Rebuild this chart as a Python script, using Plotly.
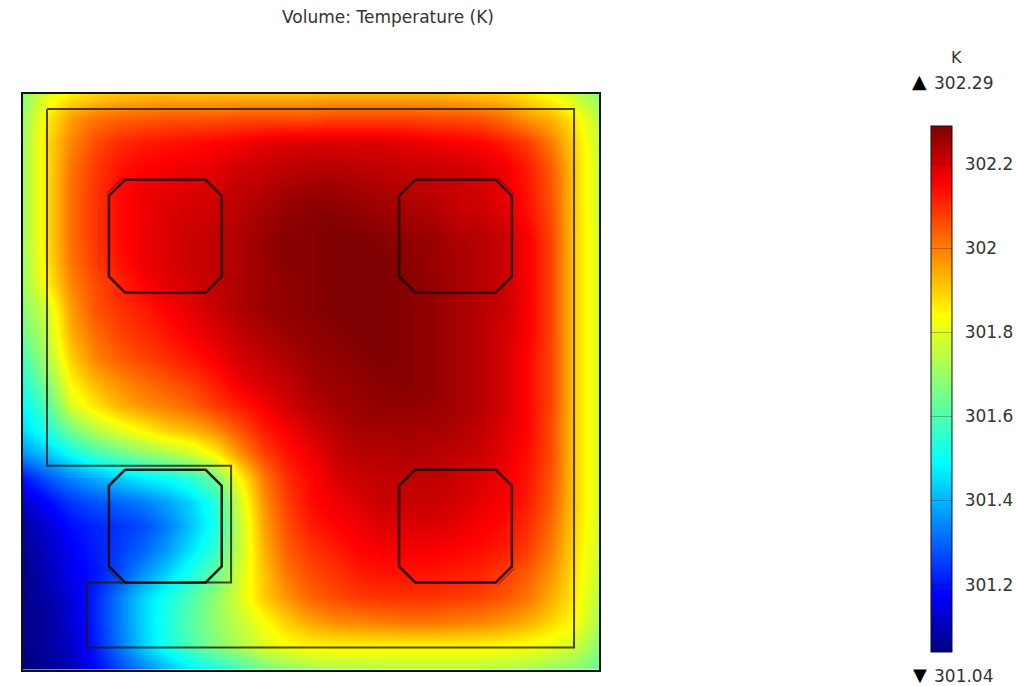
import plotly.graph_objects as go

title_text = "Volume: Temperature (K)"
unit_label = "K"
max_label = "302.29"
min_label = "301.04"
tick_values = [301.2, 301.4, 301.6, 301.8, 302.0, 302.2]
tick_labels = ["\u00a0\u2006301.2", "\u00a0\u2006301.4", "\u00a0\u2006301.6", "\u00a0\u2006301.8", "\u00a0\u2006302", "\u00a0\u2006302.2"]
z_min = 301.04
z_max = 302.29

grid_x = list(range(25))
grid_y = list(range(25))
temperature = [
 [301.68,301.80,301.86,301.89,301.91,301.92,301.92,301.92,301.92,301.92,301.92,301.92,301.92,301.93,301.93,301.93,301.93,301.93,301.92,301.91,301.90,301.87,301.83,301.76,301.68],
 [301.70,301.86,301.96,302.01,302.03,302.04,302.05,302.05,302.05,302.06,302.06,302.06,302.06,302.07,302.07,302.07,302.07,302.06,302.06,302.05,302.02,301.97,301.93,301.86,301.74],
 [301.71,301.88,301.99,302.06,302.10,302.12,302.13,302.14,302.15,302.16,302.18,302.19,302.19,302.19,302.19,302.19,302.18,302.17,302.16,302.15,302.12,302.08,302.00,301.89,301.76],
 [301.71,301.88,302.01,302.08,302.13,302.15,302.16,302.17,302.18,302.20,302.21,302.22,302.23,302.23,302.22,302.22,302.21,302.21,302.20,302.19,302.17,302.12,302.04,301.90,301.77],
 [301.71,301.88,302.02,302.09,302.14,302.17,302.18,302.19,302.20,302.22,302.23,302.25,302.26,302.26,302.25,302.24,302.23,302.22,302.21,302.20,302.18,302.13,302.05,301.90,301.77],
 [301.71,301.88,302.02,302.09,302.14,302.17,302.19,302.20,302.21,302.23,302.25,302.27,302.28,302.28,302.27,302.26,302.25,302.24,302.22,302.21,302.19,302.14,302.06,301.90,301.77],
 [301.71,301.88,302.02,302.09,302.14,302.17,302.19,302.21,302.22,302.24,302.26,302.28,302.28,302.29,302.29,302.28,302.27,302.26,302.24,302.23,302.21,302.16,302.07,301.90,301.78],
 [301.71,301.87,302.01,302.08,302.13,302.17,302.19,302.21,302.22,302.24,302.26,302.28,302.28,302.29,302.29,302.29,302.28,302.26,302.25,302.23,302.21,302.16,302.07,301.90,301.78],
 [301.70,301.85,301.99,302.06,302.11,302.15,302.18,302.20,302.22,302.24,302.26,302.27,302.28,302.29,302.29,302.29,302.28,302.27,302.25,302.23,302.21,302.16,302.07,301.90,301.78],
 [301.68,301.78,301.96,302.05,302.09,302.12,302.15,302.18,302.21,302.24,302.26,302.27,302.28,302.29,302.29,302.29,302.28,302.27,302.25,302.23,302.21,302.16,302.07,301.90,301.78],
 [301.64,301.76,301.94,302.02,302.07,302.10,302.13,302.16,302.19,302.22,302.24,302.26,302.27,302.28,302.29,302.29,302.28,302.27,302.25,302.23,302.20,302.16,302.07,301.90,301.78],
 [301.58,301.73,301.90,301.99,302.04,302.07,302.10,302.13,302.16,302.20,302.22,302.24,302.26,302.27,302.28,302.29,302.28,302.27,302.25,302.23,302.20,302.15,302.07,301.90,301.78],
 [301.54,301.67,301.85,301.93,301.98,302.02,302.05,302.08,302.12,302.17,302.20,302.22,302.25,302.26,302.27,302.28,302.28,302.27,302.25,302.23,302.20,302.15,302.07,301.90,301.78],
 [301.49,301.60,301.79,301.87,301.93,301.97,302.00,302.03,302.08,302.12,302.16,302.20,302.23,302.25,302.26,302.27,302.27,302.26,302.25,302.23,302.20,302.15,302.07,301.90,301.78],
 [301.45,301.53,301.65,301.74,301.80,301.85,301.90,301.93,301.98,302.05,302.12,302.16,302.20,302.23,302.25,302.25,302.25,302.25,302.24,302.22,302.19,302.15,302.06,301.90,301.78],
 [301.36,301.42,301.50,301.57,301.63,301.68,301.72,301.77,301.85,301.97,302.07,302.13,302.17,302.21,302.23,302.23,302.24,302.23,302.22,302.21,302.18,302.14,302.06,301.90,301.78],
 [301.20,301.28,301.34,301.39,301.43,301.47,301.50,301.55,301.64,301.84,302.00,302.10,302.15,302.19,302.21,302.22,302.22,302.22,302.21,302.19,302.17,302.13,302.05,301.90,301.78],
 [301.12,301.18,301.24,301.28,301.30,301.33,301.38,301.44,301.54,301.78,301.97,302.08,302.14,302.17,302.19,302.21,302.21,302.21,302.20,302.18,302.16,302.12,302.04,301.90,301.78],
 [301.08,301.13,301.19,301.22,301.24,301.27,301.33,301.42,301.52,301.76,301.95,302.06,302.12,302.15,302.17,302.19,302.19,302.19,302.18,302.16,302.14,302.10,302.02,301.89,301.78],
 [301.06,301.11,301.17,301.21,301.25,301.30,301.37,301.46,301.56,301.76,301.93,302.04,302.09,302.12,302.15,302.16,302.16,302.16,302.15,302.14,302.12,302.08,302.00,301.88,301.77],
 [301.05,301.10,301.16,301.20,301.27,301.36,301.44,301.53,301.63,301.78,301.91,302.01,302.06,302.09,302.12,302.13,302.13,302.13,302.12,302.11,302.08,302.04,301.97,301.87,301.76],
 [301.05,301.08,301.14,301.22,301.33,301.44,301.52,301.60,301.69,301.79,301.90,301.97,302.03,302.06,302.08,302.09,302.09,302.09,302.08,302.07,302.05,302.01,301.94,301.86,301.74],
 [301.05,301.07,301.13,301.22,301.33,301.44,301.53,301.61,301.69,301.76,301.83,301.90,301.95,301.98,301.99,302.00,302.01,302.01,302.00,301.99,301.97,301.94,301.89,301.84,301.72],
 [301.05,301.07,301.12,301.21,301.32,301.43,301.52,301.60,301.67,301.73,301.79,301.83,301.85,301.85,301.85,301.85,301.85,301.85,301.85,301.85,301.84,301.83,301.81,301.77,301.68],
 [301.04,301.06,301.10,301.18,301.26,301.33,301.40,301.47,301.52,301.57,301.64,301.68,301.71,301.73,301.73,301.74,301.74,301.74,301.74,301.74,301.73,301.72,301.70,301.68,301.62],
]

colorscale = [
    [0.0, "#00007f"], [0.11, "#0000ff"], [0.36, "#00ffff"], [0.5, "#7fff7f"],
    [0.64, "#ffff00"], [0.89, "#ff0000"], [1.0, "#7f0000"],
]

# geometry edges in grid units
inner_x = [1.0, 22.96, 22.96, 2.67, 2.67, 8.67, 8.67, 1.0, 1.0]
inner_y = [0.625, 0.625, 23.08, 23.08, 20.375, 20.375, 15.5, 15.5, 0.625]

oct_left = [3.58, 15.67, 3.58, 15.67]
oct_top = [3.58, 3.58, 15.67, 15.67]
oct_size = 4.7
oct_cut = 0.67
# which corner of each octagon shows a doubled chamfer (x sign, y sign)
double_corner = [(-1, -1), (1, -1), (-1, 1), (1, 1)]
double_gap = 0.09

fig = go.Figure()
fig.add_trace(go.Heatmap(
    x=grid_x, y=grid_y, z=temperature, zmin=z_min, zmax=z_max,
    zsmooth="best", colorscale=colorscale, hoverinfo="skip",
    colorbar=dict(
        x=931/1016, xanchor="left", xpad=0,
        y=1-126/686, yanchor="top", ypad=0,
        lenmode="pixels", len=526, thicknessmode="pixels", thickness=21,
        outlinecolor="#111111", outlinewidth=1,
        tickmode="array", tickvals=tick_values, ticktext=tick_labels,
        ticks="inside", ticklen=21, tickcolor="rgba(0,0,0,0.25)", tickwidth=1,
        tickfont=dict(family="DejaVu Sans", size=17, color="#333333"),
    ),
))

def oct_path(l, t, s, c):
    return ([l+c, l+s-c, l+s, l+s, l+s-c, l+c, l, l, l+c],
            [t, t, t+c, t+s-c, t+s, t+s, t+s-c, t+c, t])

fig.add_trace(go.Scatter(x=inner_x, y=inner_y, mode="lines",
                         line=dict(color="rgba(35,25,10,0.8)", width=2),
                         showlegend=False, hoverinfo="skip"))
for l, t, (sx, sy) in zip(oct_left, oct_top, double_corner):
    px, py = oct_path(l, t, oct_size, oct_cut)
    fig.add_trace(go.Scatter(x=px, y=py, mode="lines",
                             line=dict(color="rgba(30,5,5,0.9)", width=2.5),
                             showlegend=False, hoverinfo="skip"))
    cx0 = l + (oct_size if sx > 0 else 0)
    cy0 = t + (oct_size if sy > 0 else 0)
    ex = [cx0 - sx*oct_cut + sx*double_gap, cx0 + sx*double_gap]
    ey = [cy0 + sy*double_gap, cy0 - sy*oct_cut + sy*double_gap]
    fig.add_trace(go.Scatter(x=ex, y=ey, mode="lines",
                             line=dict(color="rgba(30,5,5,0.7)", width=1),
                             showlegend=False, hoverinfo="skip"))

text_color = "#333333"
fig.update_layout(
    width=1016, height=686, autosize=False,
    margin=dict(l=0, r=0, t=0, b=0, autoexpand=False),
    paper_bgcolor="white", plot_bgcolor="white",
    font=dict(family="DejaVu Sans", color=text_color),
    title=dict(text=title_text, x=388/1016, xanchor="center", y=1-17/686, yanchor="middle",
               font=dict(family="DejaVu Sans", size=17, color=text_color)),
    xaxis=dict(domain=[23/1016, 599/1016], range=[0, 24], showgrid=False, zeroline=False,
               showticklabels=False, ticks="", showline=True, mirror=True,
               linecolor="#111111", linewidth=1.5),
    yaxis=dict(domain=[1-669.5/686, 1-94/686], range=[24, 0], showgrid=False, zeroline=False,
               showticklabels=False, ticks="", showline=True, mirror=True,
               linecolor="#111111", linewidth=1.5),
    annotations=[
        dict(text=unit_label, x=956/1016, y=1-58/686, xref="paper", yref="paper", showarrow=False,
             xanchor="center", yanchor="middle", font=dict(size=16, color=text_color)),
        dict(text="▲", x=919.5/1016, y=1-81/686, xref="paper", yref="paper", showarrow=False,
             xanchor="center", yanchor="middle", font=dict(size=19, color="black")),
        dict(text=max_label, x=932/1016, y=1-83/686, xref="paper", yref="paper", showarrow=False,
             xanchor="left", yanchor="middle", font=dict(size=17, color=text_color)),
        dict(text="▼", x=919.5/1016, y=1-674.5/686, xref="paper", yref="paper", showarrow=False,
             xanchor="center", yanchor="middle", font=dict(size=18, color="black")),
        dict(text=min_label, x=932/1016, y=1-675.5/686, xref="paper", yref="paper", showarrow=False,
             xanchor="left", yanchor="middle", font=dict(size=17, color=text_color)),
    ],
)
fig.write_html("out.html", config={"displayModeBar": False},
               post_script="document.body.style.margin='0';")
